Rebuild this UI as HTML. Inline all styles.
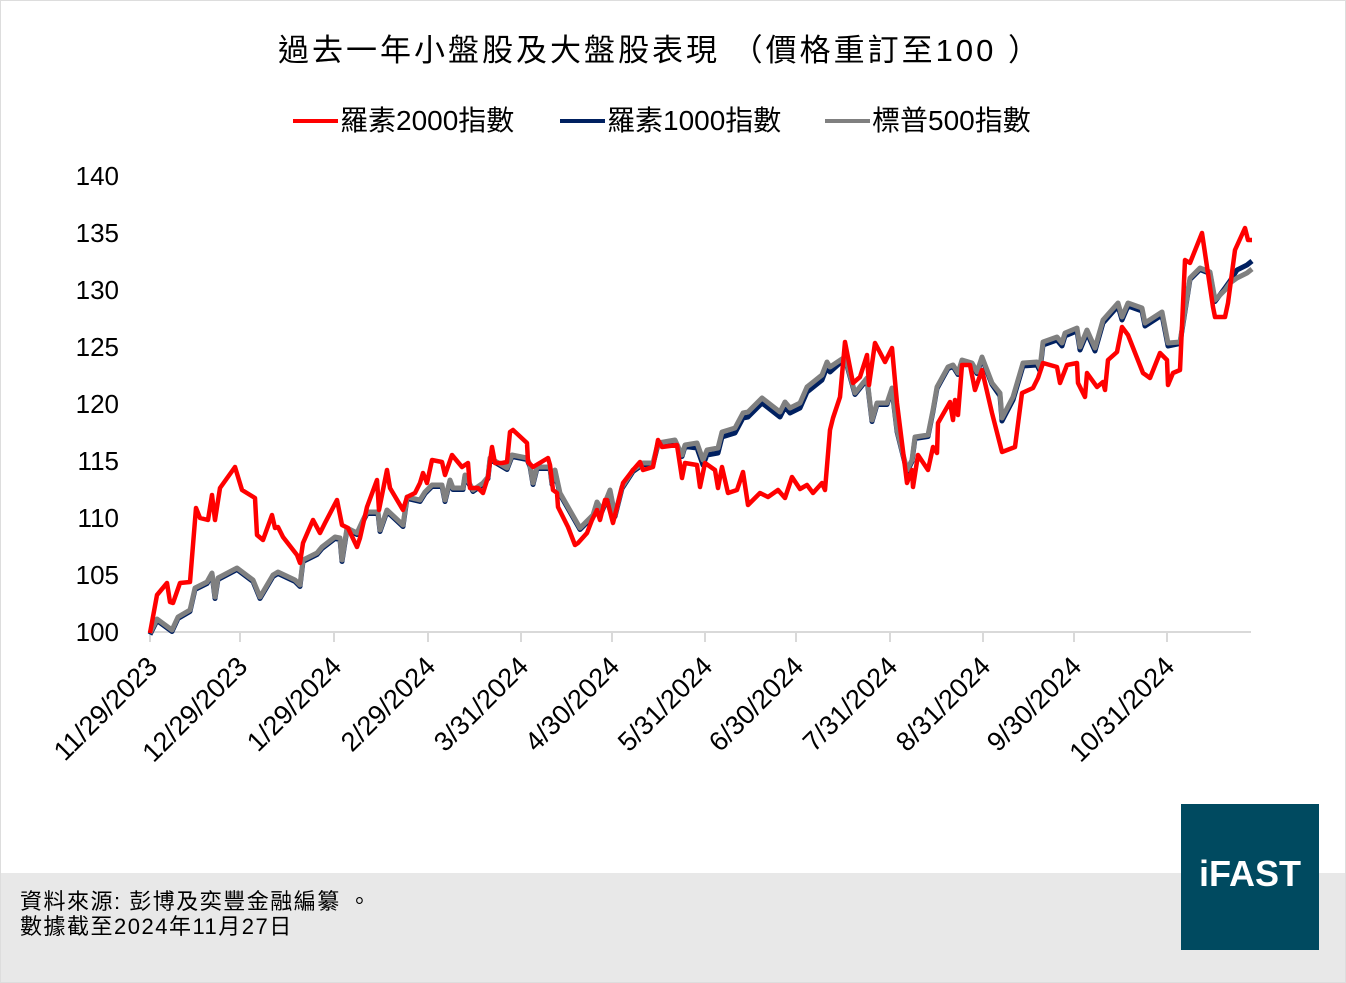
<!DOCTYPE html>
<html><head><meta charset="utf-8"><style>
body{margin:0;width:1346px;height:983px;background:#fff;overflow:hidden;font-family:"Liberation Sans","Noto Sans CJK TC",sans-serif;}
</style></head><body>
<svg width="1346" height="983" xmlns="http://www.w3.org/2000/svg" style="position:absolute;left:0;top:0">
<rect x="0" y="0" width="1346" height="983" fill="#fff"/>
<rect x="0" y="873" width="1346" height="110" fill="#e8e8e8"/>
<rect x="0.5" y="0.5" width="1345" height="982" fill="none" stroke="#ddd"/>
<text x="660" y="61" font-size="31" letter-spacing="3" text-anchor="middle" font-family="Liberation Sans, Noto Sans CJK TC, sans-serif">過去一年小盤股及大盤股表現 （價格重訂至100 ）</text>
<g font-size="28" font-family="Liberation Sans, Noto Sans CJK TC, sans-serif">
<line x1="293" y1="121" x2="338" y2="121" stroke="#f00" stroke-width="4"/><text x="340" y="130">羅素2000指數</text>
<line x1="560" y1="121" x2="605" y2="121" stroke="#002060" stroke-width="4"/><text x="607" y="130">羅素1000指數</text>
<line x1="825" y1="121" x2="870" y2="121" stroke="#808080" stroke-width="4"/><text x="872" y="130">標普500指數</text>
</g>
<g font-size="26" text-anchor="end" font-family="Liberation Sans, sans-serif">
<text x="119" y="185">140</text><text x="119" y="242">135</text><text x="119" y="299">130</text><text x="119" y="356">125</text><text x="119" y="413">120</text><text x="119" y="470">115</text><text x="119" y="527">110</text><text x="119" y="584">105</text><text x="119" y="641">100</text>
</g>
<line x1="150" y1="632" x2="1251" y2="632" stroke="#d9d9d9" stroke-width="2"/>
<g id="ticks" stroke="#d9d9d9" stroke-width="2"></g>
<g id="xl" font-size="27" text-anchor="end" font-family="Liberation Sans, sans-serif"></g>
<polyline id="navy" fill="none" stroke="#002060" stroke-width="5" stroke-linejoin="round"/>
<polyline id="gray" fill="none" stroke="#808080" stroke-width="5" stroke-linejoin="round"/>
<polyline id="red" fill="none" stroke="#f00" stroke-width="4.5" stroke-linejoin="round"/>
<text x="20" y="909" font-size="22" letter-spacing="1.5" font-family="Liberation Sans, Noto Sans CJK TC, sans-serif">資料來源: 彭博及奕豐金融編纂 。</text>
<text x="20" y="934" font-size="22" letter-spacing="1.5" font-family="Liberation Sans, Noto Sans CJK TC, sans-serif">數據截至2024年11月27日</text>
<rect x="1181" y="804" width="138" height="146" fill="#004a60"/>
<text x="1250" y="886" font-size="36" font-weight="bold" fill="#fff" text-anchor="middle" font-family="Liberation Sans, sans-serif">iFAST</text>
</svg>
<script>
var red=[150,633,157,595,167,583,170,602,173,603,180,583,190,582,196,508,200,518,208,520,212,495,215,520,220,488,235,467,242,490,255,498,257,535,263,540,272,515,275,528,278,527,283,537,297,555,300,563,303,543,313,520,320,533,325,523,337,500,342,525,348,528,357,547,360,538,367,507,377,480,379,510,387,470,390,488,403,510,407,497,415,493,420,483,423,473,427,483,432,460,442,462,445,475,452,455,462,467,468,463,470,488,478,488,483,493,488,477,492,447,495,463,502,463,507,462,510,432,513,430,527,443,528,462,533,467,548,458,550,465,553,490,557,493,558,507,568,527,575,545,578,543,587,533,592,520,597,510,600,520,605,500,607,500,613,523,623,483,633,470,640,462,643,470,653,467,658,440,662,447,677,445,682,478,685,463,697,465,700,487,705,463,715,470,718,488,722,467,728,493,737,490,743,472,748,505,760,493,768,497,778,490,785,498,792,477,800,489,807,485,813,493,822,483,825,490,830,430,833,418,840,397,845,342,853,383,860,377,867,355,869,385,875,343,885,362,892,348,897,403,907,483,912,470,913,487,918,455,928,470,933,447,937,453,938,423,950,402,953,420,955,400,958,415,962,365,970,365,975,390,982,370,992,413,1002,452,1015,447,1022,393,1033,388,1038,378,1043,363,1057,367,1060,383,1067,365,1077,363,1078,383,1085,397,1087,373,1097,387,1103,382,1105,390,1108,360,1117,352,1122,327,1128,335,1143,373,1150,378,1160,353,1167,360,1168,385,1173,373,1180,370,1185,260,1190,263,1202,233,1213,307,1215,317,1225,317,1228,303,1235,250,1245,228,1248,240,1252,240];
var gray=[150,633,157,619,172,630,178,617,190,610,195,588,207,582,212,573,215,597,218,578,237,568,253,580,260,597,273,575,278,572,295,580,300,585,303,560,317,553,322,547,335,537,340,538,342,560,347,528,357,533,363,520,367,512,378,512,380,530,387,510,403,525,407,497,420,500,425,492,432,485,442,485,445,500,450,480,453,488,463,488,465,475,473,490,483,483,488,477,490,458,507,468,512,455,527,458,530,465,533,483,537,467,550,467,552,483,555,470,560,493,580,528,593,515,597,502,602,510,610,490,615,515,622,487,633,470,643,463,653,463,658,443,675,440,682,455,685,445,697,443,703,460,707,450,718,448,722,432,735,428,743,413,748,412,762,398,780,412,785,402,790,408,800,403,807,387,822,375,827,362,830,367,845,357,855,393,867,378,872,420,877,403,887,403,892,388,897,430,907,470,912,460,915,437,928,435,933,410,937,387,948,367,953,365,958,373,962,360,972,363,977,372,982,357,992,383,1000,393,1002,418,1013,397,1023,363,1037,362,1040,368,1043,342,1057,337,1062,343,1065,333,1077,328,1080,347,1087,330,1095,348,1103,320,1118,303,1122,317,1128,303,1142,308,1145,323,1162,312,1168,343,1180,342,1190,278,1200,268,1210,272,1215,300,1225,290,1230,283,1237,278,1247,273,1252,269];
var navy=[];
for(var i=0;i<gray.length;i+=2){var x=gray[i],y=gray[i+1],d=1.5;
 if(x>690&&x<835)d=5; else if(x>=1000&&x<1180)d=3;
 if(x>=1237)d=-8; else if(x>=1225)d=-2;
 navy.push(x,y+d);}
function s(a){var o=[];for(var i=0;i<a.length;i+=2)o.push(a[i]+','+a[i+1]);return o.join(' ');}
document.getElementById('red').setAttribute('points',s(red));
document.getElementById('gray').setAttribute('points',s(gray));
document.getElementById('navy').setAttribute('points',s(navy));
var tx=[150,240,334,428,521,612,705,796,890,983,1074,1167];
var lab=['11/29/2023','12/29/2023','1/29/2024','2/29/2024','3/31/2024','4/30/2024','5/31/2024','6/30/2024','7/31/2024','8/31/2024','9/30/2024','10/31/2024'];
var t='',l='';
for(var i=0;i<tx.length;i++){t+='<line x1="'+tx[i]+'" y1="632" x2="'+tx[i]+'" y2="642"/>';
 l+='<text transform="translate('+(tx[i]+9)+',668) rotate(-45)">'+lab[i]+'</text>';}
document.getElementById('ticks').innerHTML=t;
document.getElementById('xl').innerHTML=l;
</script>
</body></html>
